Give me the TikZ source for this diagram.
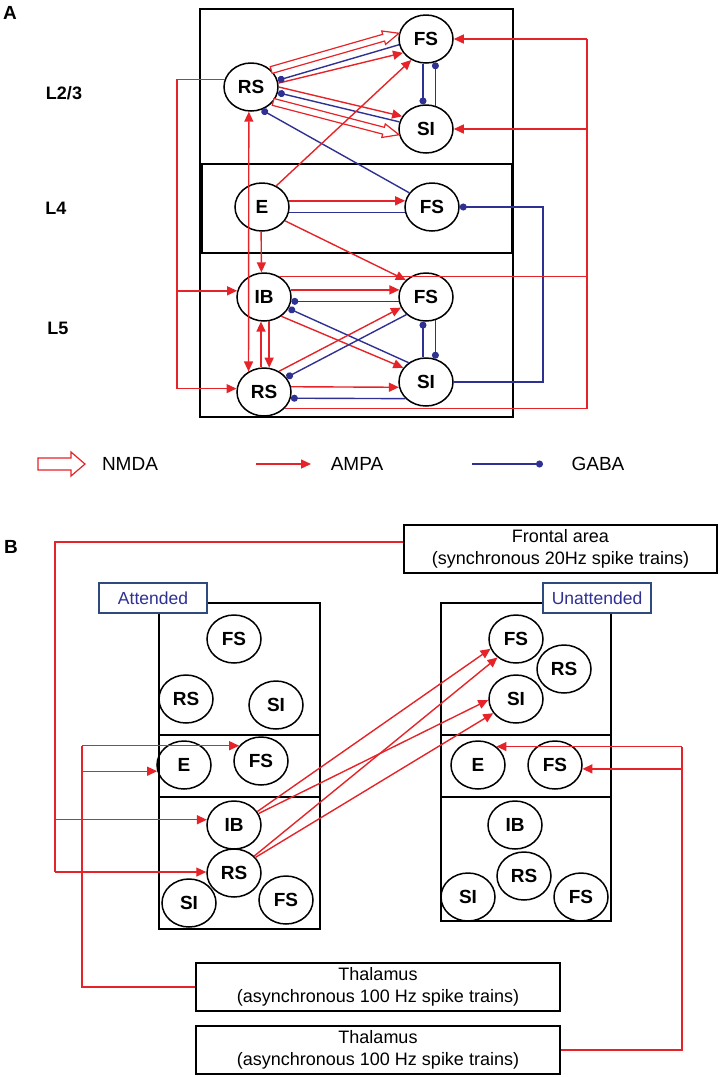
\documentclass[tikz,border=0pt]{standalone}
\usepackage{fontspec}
\setmainfont{Liberation Sans}
\usepackage{tikz}
\usetikzlibrary{arrows.meta,calc,shapes.geometric}

\definecolor{synred}{RGB}{230,35,40}
\definecolor{synblue}{RGB}{46,49,146}
\definecolor{tagblue}{RGB}{47,74,127}

% hollow block arrow: from, to, shaft half width, head half width, head length
\newcommand{\nmdaarrow}[5]{%
  \coordinate (nA) at (#1);
  \coordinate (nB) at (#2);
  \coordinate (nC) at ($(nB)!#5!(nA)$);
  \draw[nmda] ($(nA)!#3!90:(nB)$) -- ($(nC)!#3!-90:(nA)$) -- ($(nC)!#4!-90:(nA)$)
    -- (nB) -- ($(nC)!#4!90:(nA)$) -- ($(nC)!#3!90:(nA)$) -- ($(nA)!#3!-90:(nB)$) -- cycle;}

\begin{document}
\begin{tikzpicture}[x=1pt,y=-1pt,
    cell/.style={draw,ellipse,line width=1.5pt,minimum width=54pt,minimum height=48pt,
      inner sep=0pt,font=\fontsize{19}{19}\selectfont\bfseries},
    ampa/.style={draw=synred,line width=1.4pt,-{Triangle[length=10pt,width=9pt]}},
    ampaboth/.style={draw=synred,line width=1.4pt,
      {Triangle[length=10pt,width=9pt]}-{Triangle[length=10pt,width=9pt]}},
    gaba/.style={draw=synblue,line width=1.4pt,-{Circle[length=7pt]}},
    redline/.style={draw=synred,line width=1.4pt},
    blueline/.style={draw=synblue,line width=1.4pt},
    nmda/.style={draw=synred,line width=1.2pt,fill=white,line join=miter},
    layerbox/.style={draw,line width=1.5pt},
    srcbox/.style={draw,line width=1.5pt,minimum height=48pt,inner sep=0pt,align=center,
      font=\fontsize{18}{21.5}\selectfont},
    areatag/.style={draw=tagblue,fill=white,text=synblue,line width=1.2pt,minimum width=108pt,
      minimum height=30pt,inner sep=0pt,font=\fontsize{17.5}{17.5}\selectfont},
    panellbl/.style={font=\fontsize{19}{19}\selectfont\bfseries},
    layerlbl/.style={font=\fontsize{18}{18}\selectfont\bfseries},
    legendtxt/.style={font=\fontsize{19}{19}\selectfont}]
\useasboundingbox (0,0) rectangle (720,1077);

% ---------------- Panel A ----------------
\node[panellbl] (lblA) at (10,13) {A};
\node[layerlbl] (l23) at (64,93) {L2/3};
\node[layerlbl] (l4) at (56,208) {L4};
\node[layerlbl] (l5) at (58,328) {L5};

\draw[layerbox] (200,9) rectangle (513,417);
\draw[layerbox] (202,164) rectangle (512,253);

% Cells
\node[cell] (rs23) at (251,87) {RS};
\node[cell] (fs23) at (426,39) {FS};
\node[cell] (si23) at (426,129) {SI};
\node[cell] (e4) at (262,207) {E};
\node[cell] (fs4) at (432,207) {FS};
\node[cell] (ib5) at (264,297) {IB};
\node[cell] (fs5) at (426,297) {FS};
\node[cell] (rs5) at (264,392) {RS};
\node[cell] (si5) at (426,382) {SI};

% NMDA
\nmdaarrow{rs23.40}{fs23.168}{3.5pt}{7pt}{16pt}
\nmdaarrow{rs23.-34}{si23.192}{3.5pt}{7pt}{16pt}

% L2/3
\draw[ampa] (rs23.8) -- (fs23.211);
\draw[ampa] (rs23.0) -- (si23.152);
\draw[gaba] (fs23.192) -- (rs23.14);
\draw[gaba] (si23.165) -- (rs23.-12);
\draw[gaba] (fs23.263) -- (si23.97);
\draw[gaba] (si23.68) -- (fs23.292);

% L4
\draw[gaba] (fs4.148) -- (rs23.-65);
\draw[ampa] (e4.56) -- (fs23.235);
\draw[ampaboth] (rs23.265) -- (rs5.127);
\draw[ampa] (e4.268) -- (ib5.96);
\draw[ampa] (e4.13) -- (fs4.167);
\draw[blueline] (e4.-11) -- (fs4.191);
\draw[ampa] (e4.-31) -- (fs5.140);
\coordinate (loopR) at (543,300);
\draw[gaba] (si5.east) -| (loopR) |- (fs4.east);

% L5
\draw[ampa] (ib5.15) -- (fs5.165);
\draw[gaba] (fs5.189) -- (ib5.-9);
\draw[gaba] (si5.132) -- (ib5.-25);
\draw[ampa] (ib5.-48) -- (si5.148);
\draw[ampa] (rs5.97) -- (ib5.263);
\draw[ampa] (ib5.282) -- (rs5.78);
\draw[ampa] (rs5.54) -- (fs5.203);
\draw[gaba] (fs5.222) -- (rs5.33);
\draw[ampa] (rs5.11) -- (si5.191);
\draw[gaba] (si5.219) -- (rs5.-13);
\draw[gaba] (si5.97) -- (fs5.263);
\draw[gaba] (fs5.292) -- (si5.68);

% Feedback lines
\coordinate (busL) at (177,0);
\draw[redline] (rs23.164) -| (busL |- rs5.173);
\draw[ampa] (busL |- ib5.167) -- (ib5.167);
\draw[ampa] (busL |- rs5.173) -- (rs5.173);

\coordinate (busR) at (587,0);
\draw[redline] (rs5.-39) -| (busR |- fs23.east);
\draw[redline] (ib5.53) -- (busR |- ib5.53);
\draw[ampa] (busR |- fs23.east) -- (fs23.east);
\draw[ampa] (busR |- si23.east) -- (si23.east);

% Legend
\coordinate (nmdaS) at (38,464);
\coordinate (nmdaE) at (85,464);
\nmdaarrow{nmdaS}{nmdaE}{6pt}{12pt}{14pt}
\node[legendtxt] (nmdaT) at (130,464) {NMDA};
\coordinate (ampaS) at (256,464);
\coordinate (ampaE) at (311,464);
\draw[ampa] (ampaS) -- (ampaE);
\node[legendtxt] (ampaT) at (357,464) {AMPA};
\coordinate (gabaS) at (472,464);
\coordinate (gabaE) at (543,464);
\draw[gaba] (gabaS) -- (gabaE);
\node[legendtxt] (gabaT) at (598,464) {GABA};

% ---------------- Panel B ----------------
\node[panellbl] (lblB) at (11,547) {B};

\node[srcbox,minimum width=313pt] (frontal) at (560.5,549)
  {Frontal area\\(synchronous 20Hz spike trains)};
\node[srcbox,minimum width=364pt] (thalA) at (378,987)
  {Thalamus\\(asynchronous 100 Hz spike trains)};
\node[srcbox,minimum width=364pt] (thalU) at (378,1050)
  {Thalamus\\(asynchronous 100 Hz spike trains)};

% Areas
\draw[layerbox] (159,603) rectangle (320,929);
\draw[layerbox] (159,735) -- (320,735);
\draw[layerbox] (159,797) -- (320,797);
\draw[layerbox] (441,603) rectangle (611,921);
\draw[layerbox] (441,735) -- (611,735);
\draw[layerbox] (441,797) -- (611,797);

\node[areatag] (att) at (153,598) {Attended};
\node[areatag] (unatt) at (597,598) {Unattended};

% Attended cells
\node[cell] (att-fs23) at (234,639) {FS};
\node[cell] (att-rs23) at (186,699) {RS};
\node[cell] (att-si23) at (276,705) {SI};
\node[cell] (att-e4) at (184,765) {E};
\node[cell] (att-fs4) at (261,761) {FS};
\node[cell] (att-ib5) at (234,825) {IB};
\node[cell] (att-rs5) at (234,873) {RS};
\node[cell] (att-si5) at (189,903) {SI};
\node[cell] (att-fs5) at (286,900) {FS};

% Unattended cells
\node[cell] (un-fs23) at (516,639) {FS};
\node[cell] (un-rs23) at (564,669) {RS};
\node[cell] (un-si23) at (516,699) {SI};
\node[cell] (un-e4) at (478,765) {E};
\node[cell] (un-fs4) at (555,765) {FS};
\node[cell] (un-ib5) at (515,825) {IB};
\node[cell] (un-rs5) at (524,876) {RS};
\node[cell] (un-si5) at (468,897) {SI};
\node[cell] (un-fs5) at (581,897) {FS};

% Inputs
\coordinate (busF) at (55,0);
\draw[redline] ([yshift=7pt]frontal.west) -| (busF |- att-rs5.178);
\draw[ampa] (busF |- att-ib5.169) -- (att-ib5.169);
\draw[ampa] (busF |- att-rs5.178) -- (att-rs5.178);

\coordinate (busT) at (82,0);
\draw[redline] (thalA.west) -| (busT |- att-fs4.145);
\draw[ampa] (busT |- att-fs4.145) -- (att-fs4.145);
\draw[ampa] (busT |- att-e4.193) -- (att-e4.193);

\coordinate (busU) at (682,0);
\draw[redline] (thalU.east) -| (busU |- un-e4.45);
\draw[ampa] (busU |- un-e4.45) -- (un-e4.45);
\draw[ampa] (busU |- un-fs4.-8) -- (un-fs4.-8);

% Between areas
\draw[ampa] (att-ib5.30) -- (un-fs23.201);
\draw[ampa] (att-ib5.25) -- (un-si23.182);
\draw[ampa] (att-rs5.40) -- (un-fs23.225);
\draw[ampa] (att-rs5.36) -- (un-si23.212);

\end{tikzpicture}
\end{document}
